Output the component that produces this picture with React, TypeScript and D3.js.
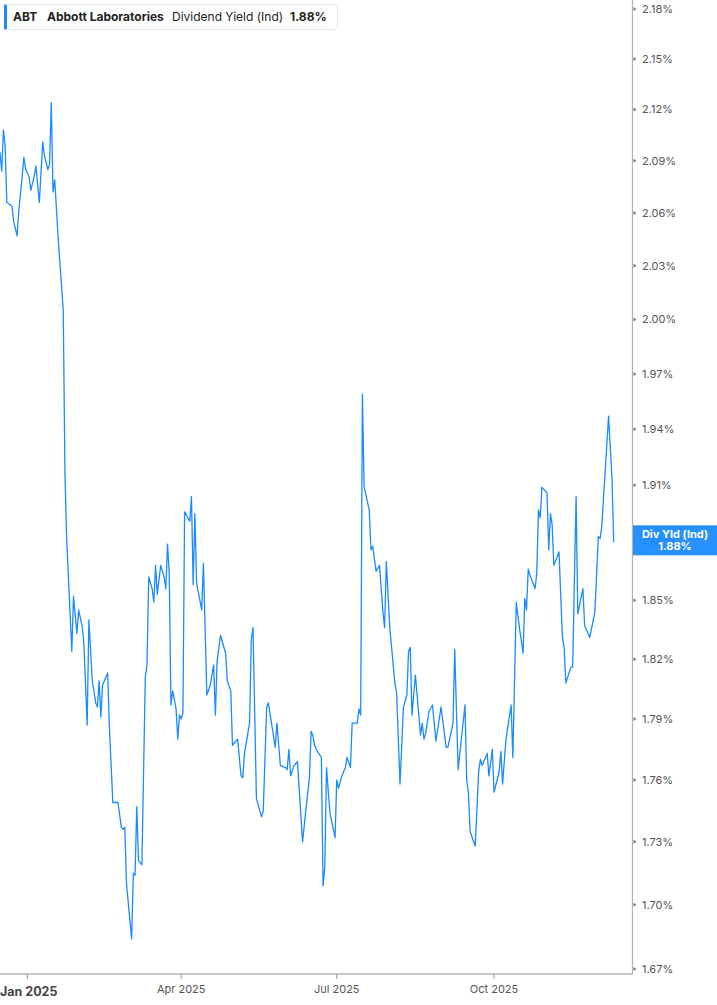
import { useEffect, useRef } from 'react';
import * as d3 from 'd3';

// ABT dividend yield (indicated), daily closes
const dates = [
  '2024-12-16', '2024-12-17', '2024-12-18', '2024-12-19', '2024-12-20', '2024-12-23', '2024-12-24', '2024-12-26',
  '2024-12-27', '2024-12-30', '2024-12-31', '2025-01-02', '2025-01-03', '2025-01-05', '2025-01-06', '2025-01-08',
  '2025-01-10', '2025-01-11', '2025-01-13', '2025-01-14', '2025-01-15', '2025-01-16', '2025-01-17', '2025-01-19',
  '2025-01-22', '2025-01-23', '2025-01-24', '2025-01-27', '2025-01-28', '2025-01-30', '2025-01-31', '2025-02-02',
  '2025-02-03', '2025-02-05', '2025-02-06', '2025-02-08', '2025-02-10', '2025-02-11', '2025-02-12', '2025-02-13',
  '2025-02-14', '2025-02-15', '2025-02-17', '2025-02-18', '2025-02-20', '2025-02-23', '2025-02-25', '2025-02-26',
  '2025-02-27', '2025-02-28', '2025-03-03', '2025-03-04', '2025-03-05', '2025-03-06', '2025-03-07', '2025-03-09',
  '2025-03-11', '2025-03-12', '2025-03-13', '2025-03-15', '2025-03-16', '2025-03-17', '2025-03-18', '2025-03-20',
  '2025-03-22', '2025-03-23', '2025-03-24', '2025-03-25', '2025-03-26', '2025-03-27', '2025-03-29', '2025-03-30',
  '2025-03-31', '2025-04-01', '2025-04-02', '2025-04-03', '2025-04-06', '2025-04-07', '2025-04-08', '2025-04-09',
  '2025-04-10', '2025-04-13', '2025-04-14', '2025-04-16', '2025-04-18', '2025-04-20', '2025-04-21', '2025-04-22',
  '2025-04-24', '2025-04-27', '2025-04-28', '2025-04-30', '2025-05-01', '2025-05-04', '2025-05-06', '2025-05-07',
  '2025-05-08', '2025-05-11', '2025-05-12', '2025-05-13', '2025-05-15', '2025-05-18', '2025-05-19', '2025-05-21',
  '2025-05-22', '2025-05-26', '2025-05-27', '2025-05-29', '2025-06-01', '2025-06-02', '2025-06-03', '2025-06-04',
  '2025-06-06', '2025-06-08', '2025-06-11', '2025-06-13', '2025-06-15', '2025-06-16', '2025-06-17', '2025-06-18',
  '2025-06-19', '2025-06-22', '2025-06-23', '2025-06-24', '2025-06-25', '2025-06-27', '2025-06-30', '2025-07-01',
  '2025-07-02', '2025-07-04', '2025-07-06', '2025-07-07', '2025-07-09', '2025-07-10', '2025-07-13', '2025-07-14',
  '2025-07-15', '2025-07-16', '2025-07-17', '2025-07-20', '2025-07-21', '2025-07-22', '2025-07-24', '2025-07-26',
  '2025-07-28', '2025-07-29', '2025-07-30', '2025-08-01', '2025-08-04', '2025-08-05', '2025-08-07', '2025-08-09',
  '2025-08-11', '2025-08-12', '2025-08-13', '2025-08-14', '2025-08-16', '2025-08-19', '2025-08-20', '2025-08-21',
  '2025-08-22', '2025-08-24', '2025-08-26', '2025-08-28', '2025-08-31', '2025-09-03', '2025-09-04', '2025-09-07',
  '2025-09-08', '2025-09-10', '2025-09-14', '2025-09-15', '2025-09-16', '2025-09-17', '2025-09-20', '2025-09-22',
  '2025-09-23', '2025-09-24', '2025-09-27', '2025-09-28', '2025-09-30', '2025-10-01', '2025-10-04', '2025-10-05',
  '2025-10-06', '2025-10-08', '2025-10-11', '2025-10-12', '2025-10-14', '2025-10-16', '2025-10-18', '2025-10-19',
  '2025-10-20', '2025-10-21', '2025-10-22', '2025-10-25', '2025-10-26', '2025-10-27', '2025-10-28', '2025-10-29',
  '2025-11-01', '2025-11-02', '2025-11-03', '2025-11-04', '2025-11-05', '2025-11-08', '2025-11-10', '2025-11-11',
  '2025-11-12', '2025-11-15', '2025-11-16', '2025-11-18', '2025-11-19', '2025-11-22', '2025-11-23', '2025-11-26',
  '2025-11-29', '2025-12-01', '2025-12-02', '2025-12-03', '2025-12-07', '2025-12-09', '2025-12-10',
];

const yields = [
  2.095, 2.084, 2.108, 2.099, 2.066, 2.064, 2.055, 2.047,
  2.061, 2.092, 2.085, 2.081, 2.073, 2.081, 2.087, 2.066,
  2.101, 2.093, 2.085, 2.088, 2.124, 2.072, 2.079, 2.046,
  2.005, 1.916, 1.882, 1.824, 1.852, 1.833, 1.845, 1.837,
  1.829, 1.787, 1.840, 1.809, 1.798, 1.796, 1.809, 1.791,
  1.807, 1.809, 1.813, 1.786, 1.749, 1.749, 1.737, 1.736,
  1.737, 1.710, 1.684, 1.715, 1.714, 1.747, 1.721, 1.719,
  1.811, 1.817, 1.862, 1.856, 1.849, 1.868, 1.853, 1.868,
  1.862, 1.856, 1.879, 1.864, 1.797, 1.804, 1.795, 1.780,
  1.792, 1.790, 1.793, 1.896, 1.891, 1.904, 1.858, 1.895,
  1.859, 1.845, 1.869, 1.802, 1.807, 1.817, 1.792, 1.819,
  1.832, 1.823, 1.809, 1.804, 1.777, 1.780, 1.762, 1.761,
  1.773, 1.788, 1.830, 1.836, 1.751, 1.742, 1.745, 1.796,
  1.798, 1.776, 1.788, 1.767, 1.766, 1.765, 1.775, 1.762,
  1.767, 1.769, 1.730, 1.746, 1.761, 1.784, 1.782, 1.777,
  1.775, 1.771, 1.709, 1.718, 1.766, 1.744, 1.732, 1.760,
  1.756, 1.762, 1.766, 1.771, 1.766, 1.788, 1.788, 1.795,
  1.792, 1.959, 1.909, 1.897, 1.876, 1.878, 1.865, 1.868,
  1.844, 1.836, 1.870, 1.836, 1.808, 1.803, 1.758, 1.796,
  1.802, 1.824, 1.826, 1.792, 1.812, 1.782, 1.788, 1.780,
  1.783, 1.794, 1.797, 1.779, 1.796, 1.776, 1.776, 1.788,
  1.825, 1.765, 1.797, 1.760, 1.754, 1.735, 1.728, 1.764,
  1.770, 1.767, 1.773, 1.762, 1.775, 1.754, 1.764, 1.774,
  1.758, 1.780, 1.797, 1.771, 1.849, 1.835, 1.823, 1.851,
  1.845, 1.866, 1.863, 1.856, 1.864, 1.897, 1.893, 1.909,
  1.906, 1.876, 1.895, 1.889, 1.868, 1.875, 1.831, 1.826,
  1.808, 1.816, 1.816, 1.904, 1.843, 1.856, 1.837, 1.831,
  1.844, 1.883, 1.882, 1.888, 1.947, 1.914, 1.880,
];

const yTickValues = [1.67, 1.7, 1.73, 1.76, 1.79, 1.82, 1.85, 1.88, 1.91, 1.94, 1.97, 2.0, 2.03, 2.06, 2.09, 2.12, 2.15, 2.18];
const xTickDates = ['2025-01-01', '2025-04-01', '2025-07-01', '2025-10-01'];
const xTickLabels = ['Jan 2025', 'Apr 2025', 'Jul 2025', 'Oct 2025'];
const xDomain = ['2024-12-16', '2025-12-21'];

const ticker = 'ABT';
const company = 'Abbott Laboratories';
const metric = 'Dividend Yield (Ind)';
const badgeLabel = 'Div Yld (Ind)';

const BLUE = '#1a8aff';
const FONT = 'Inter, "Noto Sans", sans-serif';

export default function App() {
  const ref = useRef<SVGSVGElement>(null);

  useEffect(() => {
    if (!ref.current) return;
    const width = 717;
    const height = 1005;
    const plotRight = 632.5;
    const plotBottom = 974;

    const svg = d3.select(ref.current);
    svg.selectAll('*').remove();
    svg.attr('width', width).attr('height', height);

    const parse = d3.utcParse('%Y-%m-%d');
    const data = dates.map((d, i) => ({ date: parse(d) as Date, value: yields[i] }));

    const x = d3.scaleUtc()
      .domain(xDomain.map((d) => parse(d) as Date))
      .range([0, plotRight]);

    const y = d3.scaleLog()
      .domain([1.67, 2.18])
      .range([969, 9]);

    const fmt = (v: number) => `${v.toFixed(2)}%`;

    // axes lines
    svg.append('line')
      .attr('x1', plotRight).attr('x2', plotRight)
      .attr('y1', 0).attr('y2', plotBottom)
      .attr('stroke', '#b3b3b3').attr('stroke-width', 1.2);

    svg.append('line')
      .attr('x1', 0).attr('x2', plotRight)
      .attr('y1', plotBottom).attr('y2', plotBottom)
      .attr('stroke', '#b3b3b3').attr('stroke-width', 1.5);

    // y ticks
    const yt = svg.append('g');
    yTickValues.forEach((v) => {
      const yy = y(v);
      yt.append('path')
        .attr('d', `M${plotRight + 1},${yy - 2}L${plotRight + 4},${yy}L${plotRight + 1},${yy + 2}Z`)
        .attr('fill', '#777');
      yt.append('text')
        .attr('x', 642)
        .attr('y', yy)
        .attr('dy', '0.35em')
        .style('font-family', FONT)
        .style('font-size', '11px')
        .style('fill', '#555')
        .text(fmt(v));
    });

    // x ticks
    const xt = svg.append('g');
    xTickDates.forEach((d, i) => {
      const xx = x(parse(d) as Date);
      xt.append('line')
        .attr('x1', xx).attr('x2', xx)
        .attr('y1', plotBottom).attr('y2', plotBottom + 5)
        .attr('stroke', '#999').attr('stroke-width', 1);
      const first = i === 0;
      xt.append('text')
        .attr('x', first ? 0 : xx)
        .attr('y', first ? 996 : 993)
        .attr('text-anchor', first ? 'start' : 'middle')
        .style('font-family', FONT)
        .style('font-size', first ? '12.5px' : '11px')
        .style('font-weight', first ? 700 : 400)
        .style('fill', first ? '#444' : '#555')
        .text(xTickLabels[i]);
    });

    // the series line
    const line = d3.line<{ date: Date; value: number }>()
      .x((d) => x(d.date))
      .y((d) => y(d.value));

    svg.append('path')
      .datum(data)
      .attr('d', line)
      .attr('fill', 'none')
      .attr('stroke', BLUE)
      .attr('stroke-width', 1.3)
      .attr('stroke-linejoin', 'round');

    // last value badge
    const last = data[data.length - 1];
    const ly = y(last.value);
    const badge = svg.append('g');
    badge.append('rect')
      .attr('x', plotRight + 0.5)
      .attr('y', ly - 17)
      .attr('width', width - plotRight)
      .attr('height', 30)
      .attr('fill', BLUE)
      .attr('opacity', 0.94);
    badge.append('text')
      .attr('x', 675)
      .attr('y', ly - 4)
      .attr('text-anchor', 'middle')
      .style('font-family', FONT)
      .style('font-size', '11px')
      .style('font-weight', 700)
      .style('fill', '#fff')
      .text(badgeLabel);
    badge.append('text')
      .attr('x', 675)
      .attr('y', ly + 8)
      .attr('text-anchor', 'middle')
      .style('font-family', FONT)
      .style('font-size', '11px')
      .style('font-weight', 700)
      .style('fill', '#fff')
      .text(fmt(last.value));

    // legend
    const legend = svg.append('g');
    legend.append('rect')
      .attr('x', 4.5).attr('y', 4.5)
      .attr('width', 333).attr('height', 25)
      .attr('rx', 3)
      .attr('fill', '#fff')
      .attr('stroke', '#e8e8e8');
    legend.append('rect')
      .attr('x', 4).attr('y', 4.5)
      .attr('width', 3).attr('height', 25)
      .attr('rx', 1)
      .attr('fill', BLUE);
    const legendText = (tx: number, txt: string, bold: boolean) =>
      legend.append('text')
        .attr('x', tx)
        .attr('y', 21)
        .style('font-family', FONT)
        .style('font-size', '12px')
        .style('font-weight', bold ? 700 : 400)
        .style('fill', '#222')
        .text(txt);
    legendText(13, ticker, true);
    legendText(47, company, true);
    legendText(172, metric, false);
    legendText(290, fmt(last.value), true);
  }, []);

  return (
    <div style={{ position: 'absolute', left: 0, top: 0, background: '#fff' }}>
      <svg ref={ref} />
    </div>
  );
}
